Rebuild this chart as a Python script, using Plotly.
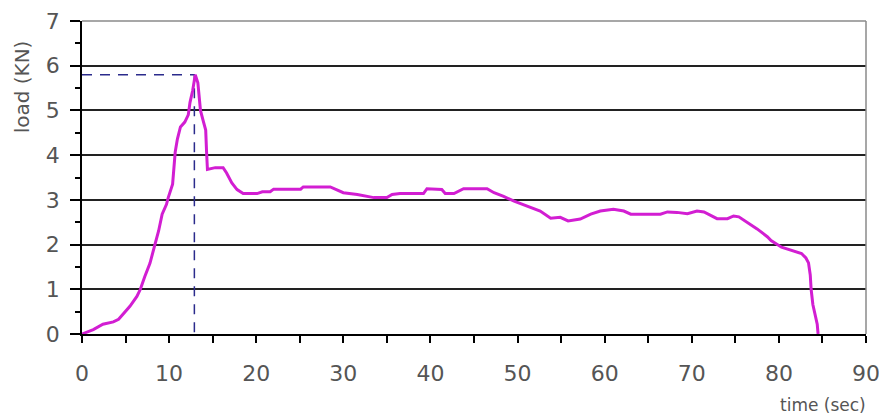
import plotly.graph_objects as go

# --- data ---
time_sec = [0, 1.3, 2.4, 3.6, 4.2, 4.7, 5.5, 6.3, 6.7, 7.2, 7.8, 8.4, 8.8, 9.2, 9.7, 9.9,
            10.1, 10.4, 10.7, 10.95, 11.3, 11.8, 12.2, 12.4, 12.7, 13.0, 13.3, 13.4, 13.6,
            13.9, 14.2, 14.3, 14.4, 15.3, 16.2, 16.6, 17.2, 17.8, 18.5, 20.1, 20.7, 21.6,
            22.0, 25.1, 25.4, 28.5, 29.3, 30.0, 31.6, 32.7, 33.5, 35.0, 35.6, 36.5, 39.2,
            39.6, 41.3, 41.7, 42.7, 43.8, 46.5, 47.3, 48.4, 49.6, 51.1, 52.6, 53.8, 54.9,
            55.8, 57.2, 58.4, 59.5, 61.0, 62.2, 63.0, 66.4, 67.2, 68.3, 69.5, 70.6, 71.4,
            72.4, 72.9, 74.1, 74.8, 75.4, 76.4, 77.5, 78.7, 79.1, 80.3, 81.4, 82.6, 83.1,
            83.4, 83.6, 83.7, 83.9, 84.2, 84.4, 84.5]
load_kn = [0, 0.1, 0.22, 0.27, 0.33, 0.44, 0.62, 0.84, 1.0, 1.28, 1.58, 2.02, 2.31, 2.68, 2.9, 3.05,
           3.19, 3.35, 4.07, 4.36, 4.63, 4.74, 4.9, 5.18, 5.44, 5.8, 5.62, 5.4, 5.0,
           4.78, 4.56, 4.07, 3.68, 3.72, 3.72, 3.6, 3.38, 3.23, 3.14, 3.14, 3.18, 3.18,
           3.24, 3.24, 3.29, 3.29, 3.23, 3.16, 3.12, 3.07, 3.05, 3.05, 3.12, 3.14, 3.14,
           3.25, 3.23, 3.14, 3.14, 3.25, 3.25, 3.16, 3.08, 2.97, 2.86, 2.75, 2.59, 2.61,
           2.53, 2.57, 2.68, 2.75, 2.79, 2.75, 2.68, 2.68, 2.73, 2.72, 2.69, 2.75, 2.73,
           2.64, 2.58, 2.58, 2.64, 2.62, 2.5, 2.35, 2.17, 2.09, 1.94, 1.87, 1.8, 1.7,
           1.59, 1.32, 1.0, 0.66, 0.37, 0.22, 0]

peak_time = 12.9
peak_load = 5.8

x_ticks = [0, 10, 20, 30, 40, 50, 60, 70, 80, 90]
y_ticks = [0, 1, 2, 3, 4, 5, 6, 7]

tick_font = dict(family="DejaVu Sans", size=22, color="#555555")

fig = go.Figure()

# dashed marker of the peak
fig.add_trace(go.Scatter(
    x=[0, peak_time, peak_time], y=[peak_load, peak_load, 0],
    mode="lines", line=dict(color="#2B2B8C", width=1.5, dash="10px,8px"),
    hoverinfo="skip", showlegend=False))

# load curve
fig.add_trace(go.Scatter(
    x=time_sec, y=load_kn, mode="lines",
    line=dict(color="#D21ED2", width=3),
    showlegend=False))

# the page body has an 8px margin, so the figure is drawn 8px smaller
fig.update_layout(
    width=879, height=411,
    margin=dict(l=74, r=21, t=13, b=85, autoexpand=False),
    paper_bgcolor="white", plot_bgcolor="white",
    showlegend=False,
    xaxis=dict(
        range=[0, 90], tickvals=x_ticks, ticktext=[str(v) for v in x_ticks],
        showgrid=False, zeroline=False, automargin=False,
        showline=True, linecolor="black", linewidth=1.5,
        ticks="outside", ticklen=7, tickwidth=1.5, tickcolor="black",
        minor=dict(dtick=5, ticks="outside", ticklen=7, tickwidth=1.5,
                   tickcolor="black", showgrid=False),
        tickfont=tick_font, ticklabelstandoff=12,
    ),
    yaxis=dict(
        range=[0, 7], tickvals=y_ticks, ticktext=[str(v) for v in y_ticks],
        showgrid=True, gridcolor="#222222", gridwidth=1.6,
        zeroline=False, automargin=False,
        showline=True, linecolor="black", linewidth=1.5,
        ticks="outside", ticklen=10, tickwidth=1.5, tickcolor="black",
        minor=dict(dtick=0.5, ticks="outside", ticklen=5, tickwidth=1.5,
                   tickcolor="black", showgrid=False),
        tickfont=tick_font, ticklabelstandoff=6,
    ),
    shapes=[
        dict(type="line", xref="paper", yref="paper", x0=0, x1=1, y0=1, y1=1,
             line=dict(color="#8A8A8A", width=1.5), layer="above"),
        dict(type="line", xref="paper", yref="paper", x0=1, x1=1, y0=0, y1=1,
             line=dict(color="#8A8A8A", width=1.5), layer="above"),
    ],
    annotations=[
        dict(text="load (KN)", xref="paper", yref="paper", x=-0.077, y=0.79,
             xanchor="center", yanchor="middle", textangle=-90, showarrow=False,
             font=dict(family="DejaVu Sans", size=20, color="#555555")),
        dict(text="time (sec)", xref="paper", yref="paper", x=1.003, y=-0.227,
             xanchor="right", yanchor="middle", showarrow=False,
             font=dict(family="DejaVu Sans", size=17, color="#555555")),
    ],
)

fig.write_html("out.html")
